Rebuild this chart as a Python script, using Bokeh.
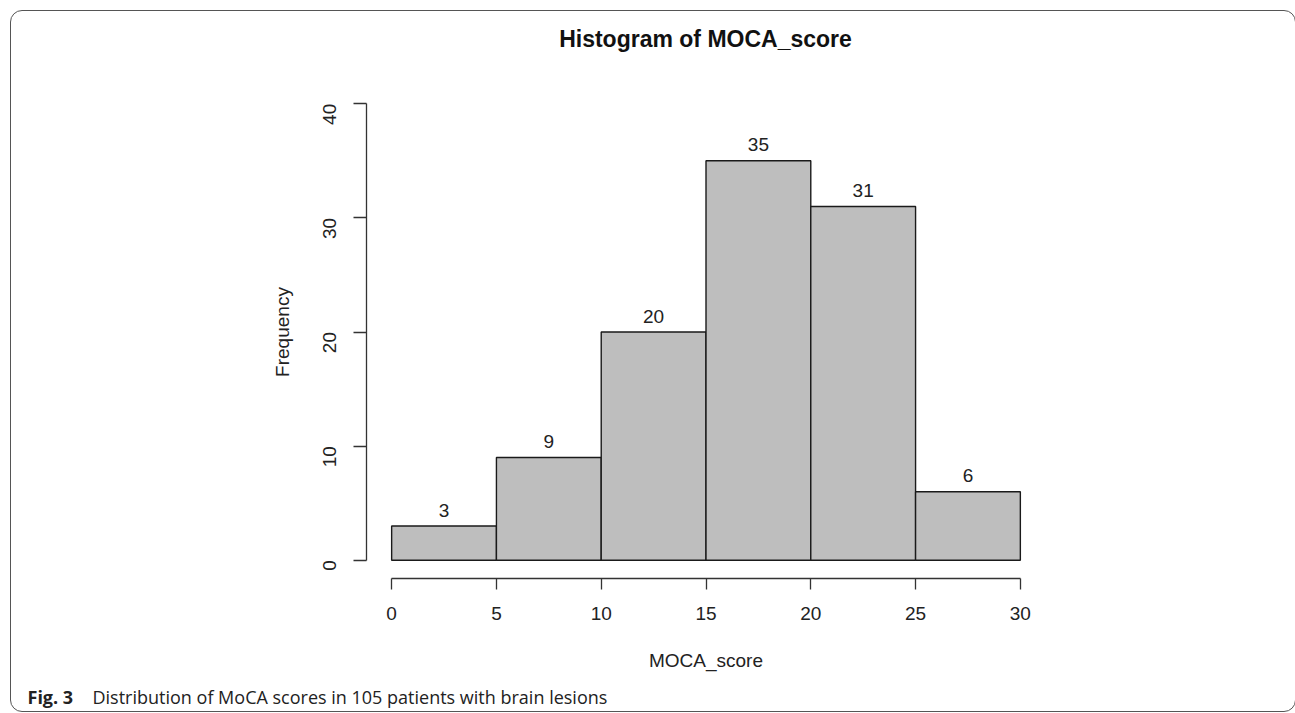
import math
from bokeh.plotting import figure
from bokeh.models import (ColumnDataSource, Range1d, Label, FixedTicker,
                          InlineStyleSheet)
from bokeh.core.properties import value
from bokeh.embed import file_html
from bokeh.resources import INLINE

# MoCA score histogram: bin edges and counts per bin
bin_left = [0, 5, 10, 15, 20, 25]
bin_right = [5, 10, 15, 20, 25, 30]
counts = [3, 9, 20, 35, 31, 6]
count_labels = [str(c) for c in counts]
x_ticks = [0, 5, 10, 15, 20, 25, 30]
y_ticks = [0, 10, 20, 30, 40]

W, H = 1295, 713
FONT = "Liberation Sans"

src = ColumnDataSource(dict(left=bin_left, right=bin_right, top=counts,
                            bottom=[0] * len(counts),
                            mid=[(a + b) / 2 for a, b in zip(bin_left, bin_right)],
                            lab=count_labels))

# plot region padded 4% beyond the data extent, axes sit on its edges
p = figure(width=W, height=H, output_backend="svg", toolbar_location=None,
           x_range=Range1d(-1.2, 31.2), y_range=Range1d(-1.6, 41.6),
           min_border_left=366, min_border_right=250,
           min_border_top=85, min_border_bottom=135)
p.outline_line_color = None
p.xgrid.visible = False
p.ygrid.visible = False
p.background_fill_color = "white"
p.border_fill_color = "white"

p.quad(left="left", right="right", top="top", bottom="bottom", source=src,
       fill_color="#bebebe", line_color="#1a1a1a", line_width=1.4)

p.text(x="mid", y="top", text="lab", source=src, text_align="center",
       text_baseline="alphabetic", y_offset=-16, text_font=value(FONT),
       text_font_size="19px", text_color="#222222")

for ax, ticks, bnd in ((p.xaxis[0], x_ticks, (0, 30)), (p.yaxis[0], y_ticks, (0, 40))):
    ax.ticker = FixedTicker(ticks=ticks)
    ax.bounds = bnd
    ax.minor_tick_line_color = None
    ax.major_tick_in = 0
    ax.axis_line_color = "#333333"
    ax.axis_line_width = 1.3
    ax.major_tick_line_color = "#333333"
    ax.major_tick_line_width = 1.3
    ax.major_label_text_font = FONT
    ax.major_label_text_font_size = "19px"
    ax.major_label_text_color = "#222222"
    ax.axis_label_text_font = FONT
    ax.axis_label_text_font_size = "19px"
    ax.axis_label_text_font_style = "normal"
    ax.axis_label_text_color = "#222222"

p.xaxis.major_tick_out = 11
p.xaxis.major_label_standoff = 17
p.xaxis.axis_label = "MOCA_score"
p.xaxis.axis_label_standoff = 27

p.yaxis.major_tick_out = 13
p.yaxis.major_label_orientation = math.pi / 2
p.yaxis.major_label_standoff = 24
p.yaxis.axis_label = "Frequency"
p.yaxis.axis_label_standoff = 21

# transparent full-page overlay carrying the title, caption and rounded frame
over = figure(width=W, height=H, output_backend="svg", toolbar_location=None,
              x_axis_location=None, y_axis_location=None,
              x_range=Range1d(0, W), y_range=Range1d(0, H), min_border=0)
over.outline_line_color = None
over.xgrid.visible = False
over.ygrid.visible = False
over.background_fill_color = None
over.border_fill_color = None

over.add_layout(Label(x=705, y=H - 38, x_units="screen", y_units="screen",
                      text="Histogram of MOCA_score", text_align="center",
                      text_baseline="middle", text_font=FONT,
                      text_font_size="23px", text_font_style="bold",
                      text_color="#111111"))

CAP_BASE = H - 696
over.add_layout(Label(x=27, y=CAP_BASE, x_units="screen", y_units="screen",
                      text="Fig. 3", text_baseline="alphabetic",
                      text_font="Open Sans", text_font_size="18px",
                      text_font_style="bold", text_color="#222222"))
over.add_layout(Label(x=92, y=CAP_BASE, x_units="screen", y_units="screen",
                      text="Distribution of MoCA scores in 105 patients with brain lesions",
                      text_baseline="alphabetic", text_font="Open Sans",
                      text_font_size="18px", text_color="#222222"))

over.stylesheets = [InlineStyleSheet(css="""
:host { position: absolute; left: 0px; top: 0px; }
:host::after {
  content: ""; position: absolute; left: 10px; top: 10px;
  width: 1286px; height: 702px; box-sizing: border-box;
  border: 1.5px solid #555555; border-radius: 12px; pointer-events: none;
}
""")]

open("out.html", "w").write(file_html([p, over], INLINE))
